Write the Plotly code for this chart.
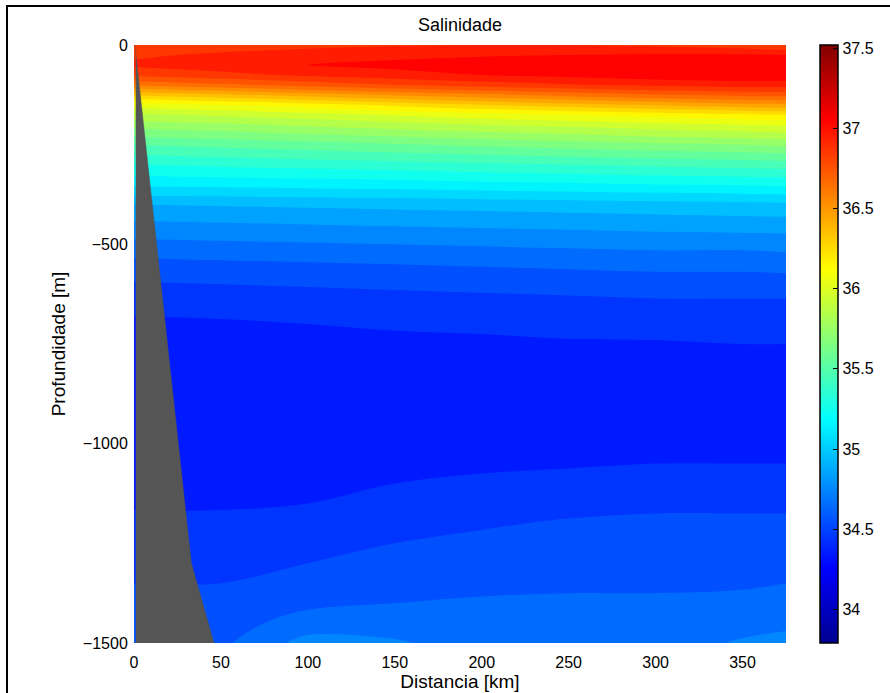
import plotly.graph_objects as go

# ---------------- data ----------------
distance_km = [0, 50, 100, 150, 200, 250, 300, 350, 375]
depth_m = [0, -25, -50, -75, -100, -125, -150, -175, -200, -250, -300, -350,
           -400, -450, -500, -550, -600, -650, -700, -750, -800, -900,
           -1000, -1050, -1100, -1150, -1200, -1250, -1300, -1350, -1400,
           -1450, -1500]

salinity = [
    [36.80, 36.84, 36.87, 36.89, 36.90, 36.90, 36.88, 36.84, 36.80],
    [36.88, 36.92, 36.95, 36.97, 36.99, 37.00, 37.01, 37.01, 37.00],
    [36.92, 36.96, 37.00, 37.03, 37.05, 37.07, 37.09, 37.10, 37.09],
    [36.82, 36.87, 36.92, 36.96, 37.00, 37.03, 37.06, 37.08, 37.07],
    [36.62, 36.68, 36.74, 36.80, 36.85, 36.89, 36.93, 36.95, 36.95],
    [36.32, 36.38, 36.45, 36.52, 36.58, 36.64, 36.69, 36.73, 36.74],
    [36.05, 36.10, 36.16, 36.23, 36.30, 36.36, 36.42, 36.47, 36.48],
    [35.88, 35.92, 35.96, 36.01, 36.06, 36.10, 36.14, 36.18, 36.20],
    [35.75, 35.78, 35.82, 35.86, 35.90, 35.93, 35.97, 36.00, 36.02],
    [35.50, 35.53, 35.56, 35.59, 35.62, 35.65, 35.68, 35.70, 35.72],
    [35.30, 35.32, 35.34, 35.36, 35.38, 35.40, 35.42, 35.44, 35.45],
    [35.12, 35.13, 35.14, 35.15, 35.17, 35.18, 35.20, 35.21, 35.22],
    [34.90, 34.91, 34.92, 34.93, 34.94, 34.95, 34.96, 34.97, 34.98],
    [34.78, 34.79, 34.80, 34.81, 34.82, 34.83, 34.84, 34.85, 34.85],
    [34.67, 34.68, 34.69, 34.70, 34.71, 34.72, 34.73, 34.73, 34.74],
    [34.57, 34.58, 34.59, 34.60, 34.61, 34.62, 34.63, 34.63, 34.64],
    [34.49, 34.50, 34.51, 34.52, 34.53, 34.54, 34.55, 34.55, 34.55],
    [34.43, 34.43, 34.44, 34.45, 34.46, 34.47, 34.48, 34.48, 34.48],
    [34.38, 34.39, 34.40, 34.41, 34.42, 34.43, 34.44, 34.44, 34.44],
    [34.35, 34.36, 34.37, 34.38, 34.38, 34.39, 34.39, 34.40, 34.40],
    [34.34, 34.34, 34.35, 34.35, 34.36, 34.36, 34.37, 34.37, 34.37],
    [34.32, 34.32, 34.33, 34.33, 34.34, 34.34, 34.34, 34.35, 34.35],
    [34.33, 34.33, 34.34, 34.35, 34.36, 34.37, 34.38, 34.38, 34.38],
    [34.35, 34.35, 34.36, 34.37, 34.38, 34.39, 34.40, 34.40, 34.40],
    [34.37, 34.37, 34.38, 34.40, 34.42, 34.43, 34.44, 34.44, 34.44],
    [34.39, 34.39, 34.40, 34.43, 34.46, 34.47, 34.48, 34.48, 34.48],
    [34.42, 34.42, 34.43, 34.46, 34.49, 34.51, 34.52, 34.52, 34.52],
    [34.45, 34.45, 34.47, 34.50, 34.52, 34.54, 34.55, 34.55, 34.55],
    [34.48, 34.48, 34.50, 34.53, 34.55, 34.57, 34.57, 34.57, 34.57],
    [34.50, 34.50, 34.54, 34.56, 34.58, 34.59, 34.59, 34.59, 34.60],
    [34.52, 34.53, 34.58, 34.60, 34.61, 34.61, 34.61, 34.62, 34.63],
    [34.55, 34.56, 34.64, 34.66, 34.64, 34.63, 34.64, 34.67, 34.68],
    [34.57, 34.58, 34.74, 34.71, 34.66, 34.65, 34.66, 34.71, 34.73],
]

# continental slope (bathymetry) outline
bathy_dist_km = [1.0, 1.0, 12, 33, 46, 1.0]
bathy_depth_m = [0, -20, -460, -1300, -1500, -1500]

cbar_ticks = [34, 34.5, 35, 35.5, 36, 36.5, 37, 37.5]
cbar_ticktext = ["34", "34.5", "35", "35.5", "36", "36.5", "37", "37.5"]
x_ticks = [0, 50, 100, 150, 200, 250, 300, 350]
y_ticks = [0, -500, -1000, -1500]

# ---------------- styling ----------------
CMIN, CMAX = 33.79, 37.52
LEV_START, LEV_END, LEV_SIZE = 33.8, 37.5, 0.1

jet_anchors = [
    (0.0, (0, 0, 143)),
    (0.125, (0, 0, 255)),
    (0.375, (0, 255, 255)),
    (0.625, (255, 255, 0)),
    (0.875, (255, 0, 0)),
    (1.0, (128, 0, 0)),
]
def rgb(c):
    return "rgb(%d,%d,%d)" % c

jet = [[t, rgb(c)] for t, c in jet_anchors]

# contour 'fill' coloring maps the colorscale onto [start-size/2, end+size/2];
# remap so that the colours correspond to the colorbar range [CMIN, CMAX]
d0 = LEV_START - LEV_SIZE / 2
d1 = LEV_END + LEV_SIZE / 2
fill_scale = [[0.0, rgb(jet_anchors[0][1])]]
for t, c in jet_anchors:
    v = CMIN + t * (CMAX - CMIN)
    p = min(max((v - d0) / (d1 - d0), 0.0), 1.0)
    fill_scale.append([p, rgb(c)])
fill_scale.append([1.0, rgb(jet_anchors[-1][1])])

FONT = "Liberation Sans, Arial, Helvetica, sans-serif"

W, H = 890, 693
ML, MR, MT, MB = 134, 104, 45, 50
PW, PH = W - ML - MR, H - MT - MB

def px_x(px):
    return (px - ML) / PW

def px_y(py):
    return (H - MB - py) / PH

fig = go.Figure()

fig.add_trace(go.Contour(
    x=distance_km, y=depth_m, z=salinity,
    colorscale=fill_scale,
    contours=dict(start=LEV_START, end=LEV_END, size=LEV_SIZE,
                  coloring="fill", showlines=False),
    line=dict(width=0),
    showscale=False,
    hoverinfo="skip",
))

fig.add_trace(go.Scatter(
    x=bathy_dist_km, y=bathy_depth_m, mode="lines",
    fill="toself", fillcolor="rgb(85,85,85)",
    line=dict(color="rgb(85,85,85)", width=0.5),
    hoverinfo="skip", showlegend=False,
))

# dummy trace that carries the continuous colorbar
cb_x = px_x(820)
fig.add_trace(go.Scatter(
    x=[200], y=[-700], mode="markers",
    marker=dict(color=[35], colorscale=jet, cmin=CMIN, cmax=CMAX, opacity=0,
                showscale=True,
                colorbar=dict(
                    x=cb_x, xanchor="left", xpad=0, ypad=0,
                    y=0.5, yanchor="middle", len=1, lenmode="fraction",
                    thickness=18, thicknessmode="pixels",
                    outlinecolor="black", outlinewidth=1.5,
                    tickvals=cbar_ticks, ticktext=cbar_ticktext,
                    ticks="inside", ticklen=5, tickwidth=1.2, tickcolor="black",
                    tickfont=dict(family=FONT, size=16, color="black"),
                )),
    hoverinfo="skip", showlegend=False,
))

shapes = []
# left-side inside ticks of the colorbar (MATLAB style)
for v in cbar_ticks:
    yy = (v - CMIN) / (CMAX - CMIN)
    shapes.append(dict(type="line", xref="paper", yref="paper",
                       x0=px_x(820), x1=px_x(825), y0=yy, y1=yy,
                       line=dict(color="black", width=1.2)))
# figure frame
shapes.append(dict(type="rect", xref="paper", yref="paper",
                   x0=px_x(7), x1=px_x(905), y0=px_y(705), y1=px_y(6),
                   line=dict(color="black", width=2), fillcolor="rgba(0,0,0,0)"))

fig.update_layout(
    width=W, height=H,
    margin=dict(l=ML, r=MR, t=MT, b=MB, autoexpand=False),
    paper_bgcolor="white", plot_bgcolor="white",
    font=dict(family=FONT, size=16, color="black"),
    title=dict(text="Salinidade", x=px_x(460), xref="paper", xanchor="center",
               y=1 - 25 / H, yref="container", yanchor="middle",
               font=dict(family=FONT, size=18, color="black")),
    showlegend=False,
    shapes=shapes,
    xaxis=dict(range=[0, 375], tickvals=x_ticks, ticktext=[str(v) for v in x_ticks],
               showgrid=False, zeroline=False, showline=False,
               ticks="outside", ticklen=5, tickcolor="rgba(0,0,0,0)",
               tickfont=dict(family=FONT, size=16),
               title=dict(text="Distancia [km]", standoff=2,
                          font=dict(family=FONT, size=19)),
               automargin=False),
    yaxis=dict(range=[-1500, 0], tickvals=y_ticks,
               showgrid=False, zeroline=False, showline=False,
               ticks="outside", ticklen=2, tickcolor="rgba(0,0,0,0)",
               tickfont=dict(family=FONT, size=16),
               title=dict(text="Profundidade [m]", standoff=12,
                          font=dict(family=FONT, size=19)),
               automargin=False),
)

fig.write_html("out.html")
